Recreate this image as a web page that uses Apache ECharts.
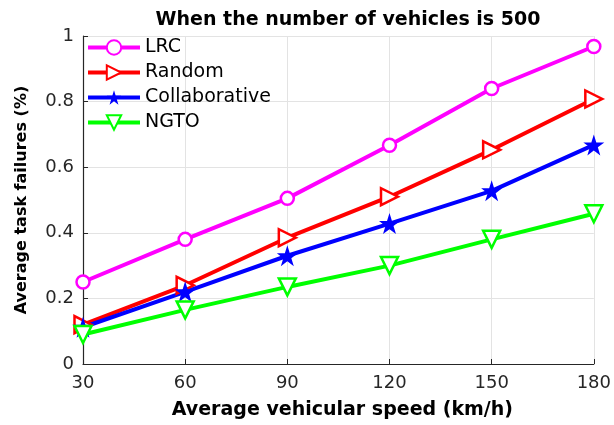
<!DOCTYPE html>
<html>
<head>
<meta charset="utf-8">
<script src="https://cdn.jsdelivr.net/npm/echarts@6/dist/echarts.min.js"></script>
<style>
  html, body { margin: 0; padding: 0; background: #fff; }
  #chart { width: 614px; height: 425px; }
</style>
</head>
<body>
<div id="chart"></div>
<script>
// Vehicle speeds (km/h) on the x axis
const speeds = [30, 60, 90, 120, 150, 180];

// Average task failures per scheme
const lrc           = [0.25, 0.38, 0.505, 0.667, 0.84, 0.968];
const randomScheme  = [0.12, 0.24, 0.385, 0.51, 0.653, 0.808];
const collaborative = [0.112, 0.22, 0.33, 0.428, 0.528, 0.668];
const ngto          = [0.09, 0.165, 0.235, 0.30, 0.38, 0.458];

const seriesNames = ['LRC', 'Random', 'Collaborative', 'NGTO'];
const titleText = 'When the number of vehicles is 500';
const xName = 'Average vehicular speed (km/h)';
const yName = 'Average task failures (%)';

const starPath = 'path://M50,0 L61.2,34.5 L97.6,34.5 L68.2,55.9 L79.4,90.5 L50,69.1 L20.6,90.5 L31.8,55.9 L2.4,34.5 L38.8,34.5 Z';

function pairs(vals) { return speeds.map((s, i) => [s, vals[i]]); }

const axisColor = '#262626';
const gridColor = '#e3e3e3';
const font = '"DejaVu Sans", Verdana, sans-serif';

const chart = echarts.init(document.getElementById('chart'), null, { renderer: 'canvas' });

function lineSeries(name, vals, color, symbol, size, rotate, hollow) {
  return {
    name: name,
    type: 'line',
    data: pairs(vals),
    symbol: symbol,
    symbolSize: size,
    symbolRotate: rotate,
    showAllSymbol: true,
    lineStyle: { color: color, width: 4 },
    itemStyle: hollow
      ? { color: '#ffffff', borderColor: color, borderWidth: 2.5 }
      : { color: color, borderColor: color, borderWidth: 0 },
    emphasis: { disabled: true },
    animation: false
  };
}

chart.setOption({
  animation: false,
  title: {
    text: titleText,
    left: 343,
    textAlign: 'center',
    top: 6,
    textStyle: { fontFamily: font, fontSize: 19, fontWeight: 'bold', color: '#000' }
  },
  legend: {
    orient: 'vertical',
    left: 86,
    top: 38,
    padding: 0,
    itemWidth: 52,
    itemHeight: 18,
    itemGap: 6,
    data: seriesNames,
    lineStyle: { width: 4 },
    textStyle: { fontFamily: font, fontSize: 19, color: '#000' },
    selectedMode: false
  },
  grid: { left: 83, right: 19, top: 36, bottom: 57, containLabel: false },
  xAxis: {
    type: 'value',
    min: 30,
    max: 180,
    interval: 30,
    name: xName,
    nameLocation: 'middle',
    nameGap: 37,
    nameTextStyle: { fontFamily: font, fontSize: 19, fontWeight: 'bold', color: '#000', padding: [0, 0, 0, 8] },
    axisLine: { lineStyle: { color: axisColor, width: 1.2 } },
    axisTick: { inside: true, length: 5, lineStyle: { color: axisColor } },
    axisLabel: { fontFamily: font, fontSize: 18, color: axisColor, margin: 10 },
    splitLine: { show: true, lineStyle: { color: gridColor, width: 1 } }
  },
  yAxis: {
    type: 'value',
    min: 0,
    max: 1,
    interval: 0.2,
    name: yName,
    nameLocation: 'middle',
    nameGap: 53,
    nameTextStyle: { fontFamily: font, fontSize: 16, fontWeight: 'bold', color: '#000' },
    axisLine: { show: true, lineStyle: { color: axisColor, width: 1.2 } },
    axisTick: { show: true, inside: true, length: 5, lineStyle: { color: axisColor } },
    axisLabel: {
      fontFamily: font, fontSize: 18, color: axisColor, margin: 9,
      padding: [4, 0, 0, 0],
      formatter: v => (v === 0 || v === 1) ? String(v) : v.toFixed(1)
    },
    splitLine: { show: true, lineStyle: { color: gridColor, width: 1 } }
  },
  series: [
    lineSeries('LRC', lrc, '#ff00ff', 'circle', 13, 0, true),
    lineSeries('Random', randomScheme, '#ff0000', 'triangle', 17, -90, true),
    lineSeries('Collaborative', collaborative, '#0000ff', starPath, 21, 0, false),
    lineSeries('NGTO', ngto, '#00ff00', 'triangle', 17, 180, true)
  ]
});
</script>
</body>
</html>
